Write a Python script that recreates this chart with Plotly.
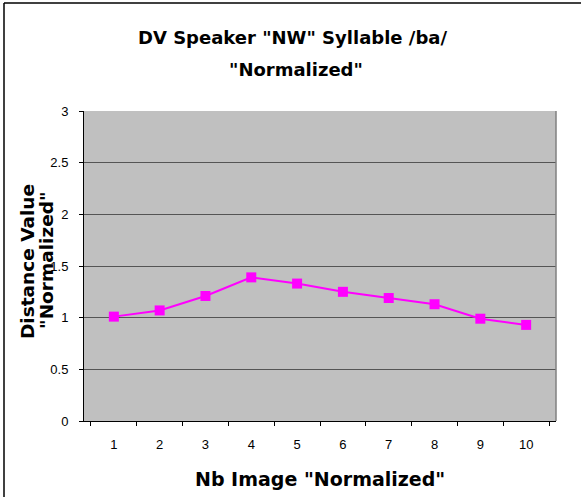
import plotly.graph_objects as go

categories = ["1", "2", "3", "4", "5", "6", "7", "8", "9", "10"]
values = [1.01, 1.07, 1.21, 1.39, 1.33, 1.25, 1.19, 1.13, 0.99, 0.93]
y_ticks = [0, 0.5, 1, 1.5, 2, 2.5, 3]
y_ticktext = ["0", "0.5", "1", "1.5", "2", "2.5", "3"]

title_lines = ['DV Speaker "NW" Syllable /ba/', '"Normalized"']
x_title = 'Nb Image "Normalized"'
y_title_lines = ["Distance Value", '"Normalized"']

FONT = "Liberation Sans, Arial, sans-serif"
TFONT = "DejaVu Sans, Liberation Sans, Arial, sans-serif"

fig = go.Figure()
fig.add_trace(go.Scatter(
    x=categories, y=values, mode="lines+markers",
    line=dict(color="#FF00FF", width=2),
    marker=dict(symbol="square", size=10, color="#FF00FF"),
    showlegend=False, cliponaxis=False,
))

W, H = 581, 497
L, R, T, B = 84, 25, 111, 76

fig.update_layout(
    width=W, height=H,
    margin=dict(l=L, r=R, t=T, b=B),
    paper_bgcolor="white",
    plot_bgcolor="#C0C0C0",
    font=dict(family=FONT, size=13, color="black"),
    xaxis=dict(
        type="category", tickson="boundaries",
        ticks="outside", ticklen=4, tickcolor="black",
        showline=True, linecolor="black", linewidth=1,
        showgrid=False, zeroline=False,
        tickfont=dict(size=13, family=FONT),
        ticklabelstandoff=11,
    ),
    yaxis=dict(
        range=[0, 3], tickvals=y_ticks, ticktext=y_ticktext,
        ticks="outside", ticklen=4, tickcolor="black",
        showline=True, linecolor="black", linewidth=1,
        showgrid=True, gridcolor="#555555", gridwidth=1,
        zeroline=False,
        tickfont=dict(size=13, family=FONT),
        ticklabelstandoff=8,
    ),
)

pw, ph = W - L - R, H - T - B

def px_x(x):
    return (x - L) / pw

def px_y(y):
    return (H - B - y) / ph

# plot area right border (gray)
fig.add_shape(type="line", xref="paper", yref="paper", x0=1, x1=1, y0=0, y1=1,
              line=dict(color="#808080", width=1.5))
# outer chart border (top and left visible)
fig.add_shape(type="line", xref="paper", yref="paper",
              x0=px_x(4), x1=px_x(585), y0=px_y(3), y1=px_y(3),
              line=dict(color="black", width=1.5))
fig.add_shape(type="line", xref="paper", yref="paper",
              x0=px_x(4), x1=px_x(4), y0=px_y(3), y1=px_y(500),
              line=dict(color="black", width=1.5))

def bold(size):
    return dict(family=TFONT, size=size, color="black")

ann = []
ann.append(dict(text="<b>%s</b>" % title_lines[0], x=px_x(292), y=px_y(38), font=bold(18)))
ann.append(dict(text="<b>%s</b>" % title_lines[1], x=px_x(296), y=px_y(69), font=bold(18)))
ann.append(dict(text="<b>%s</b>" % x_title, x=px_x(320), y=px_y(479), font=bold(19)))
ann.append(dict(text="<b>%s</b>" % y_title_lines[0], x=px_x(27), y=px_y(262),
                textangle=-90, font=bold(18.5)))
ann.append(dict(text="<b>%s</b>" % y_title_lines[1], x=px_x(46), y=px_y(260),
                textangle=-90, font=bold(18.5)))
for a in ann:
    a.update(xref="paper", yref="paper", showarrow=False, xanchor="center",
             yanchor="middle")
    fig.add_annotation(**a)

fig.write_html("out.html", config={"displayModeBar": False},
               post_script="document.body.style.margin='0';document.body.style.overflow='hidden';")
